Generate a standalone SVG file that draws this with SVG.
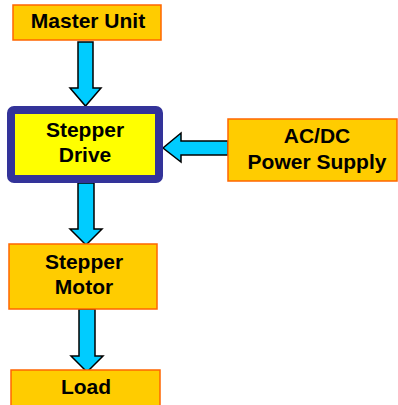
<svg xmlns="http://www.w3.org/2000/svg" width="398" height="405" viewBox="0 0 398 405">
<style>
.box{fill:#FFCC00;stroke:#FF6600;stroke-width:1.5}
.drive{fill:#FFFF00;stroke:#333399;stroke-width:8}
.arrow{fill:#00CCFF;stroke:#000000;stroke-width:1.5;stroke-linejoin:miter}
.t{font-family:"Liberation Sans",Arial,sans-serif;font-weight:bold;font-size:21px;fill:#000;text-anchor:middle}
</style>
<rect width="398" height="405" fill="#ffffff"/>
<g id="connectors">
<polygon class="arrow" points="78,42 93,42 93,88 101,88 85.5,106 70,88 78,88"/>
<polygon class="arrow" points="78,183 94,183 94,229 102,229 86,245 70,229 78,229"/>
<polygon class="arrow" points="79,309 95,309 95,356 103,356 87,372 71,356 79,356"/>
<polygon class="arrow" points="228,141 228,155 181,155 181,162 163,148 181,133 181,141"/>
</g>
<g id="master">
<rect class="box" x="13" y="5" width="148" height="35"/>
<text class="t" x="88" y="28">Master Unit</text>
</g>
<g id="drive">
<rect class="drive" x="11" y="110" width="148" height="69" rx="3"/>
<text class="t" x="85" y="136.5">Stepper</text>
<text class="t" x="85" y="162">Drive</text>
</g>
<g id="power">
<rect class="box" x="228" y="119" width="169" height="62"/>
<text class="t" x="317" y="143">AC/DC</text>
<text class="t" x="317" y="168.5">Power Supply</text>
</g>
<g id="motor">
<rect class="box" x="9" y="244" width="148" height="65"/>
<text class="t" x="84" y="268.5">Stepper</text>
<text class="t" x="84" y="293.5">Motor</text>
</g>
<g id="load">
<rect class="box" x="11" y="370" width="149" height="40"/>
<text class="t" x="86" y="394">Load</text>
</g>
</svg>
